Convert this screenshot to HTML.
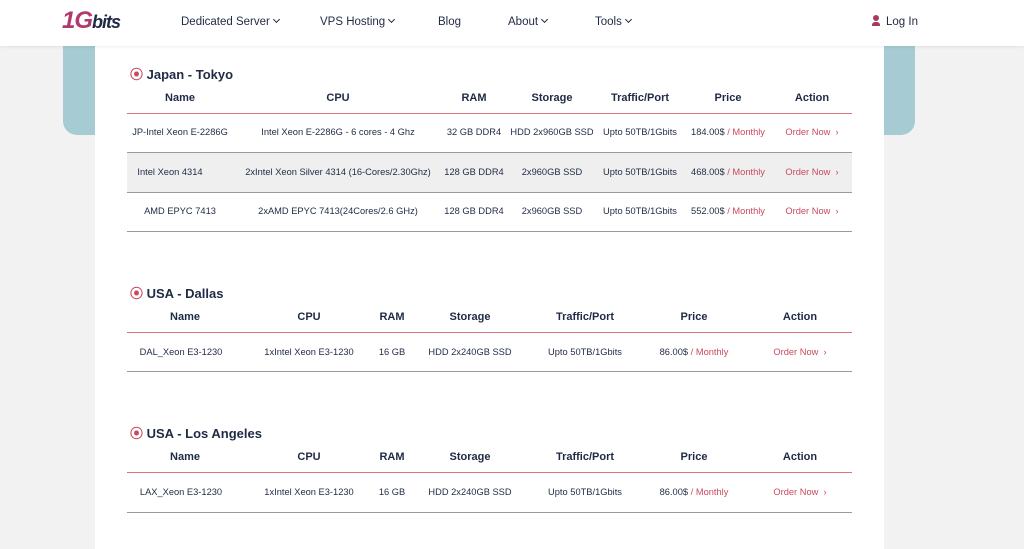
<!DOCTYPE html>
<html><head><style>
body{margin:0;width:1024px;height:549px;overflow:hidden;background:#f3f2f2;font-family:"Liberation Sans",sans-serif;position:relative;color:#1f2a44}
.a{position:absolute;white-space:nowrap}
.c{transform:translateX(-50%)}
.h{font-size:11px;font-weight:bold;color:#1f2a44}
.t{font-size:9.3px;color:#1f2a44}
.r{color:#c94a5e}
.ttl{font-size:13px;font-weight:bold;color:#1f2a44}
.nav{font-size:11.5px;color:#1f2a44;top:15px;line-height:14px}
.nav i{display:inline-block;width:4px;height:4px;border-right:1.2px solid #1f2a44;border-bottom:1.2px solid #1f2a44;transform:rotate(45deg);margin-left:4px;position:relative;top:-3px}
.line{position:absolute;height:1px}
</style></head><body>
<div class="a" style="left:0;top:0;width:1024px;height:46px;background:#fff;box-shadow:0 1px 3px rgba(0,0,0,.08);z-index:2"></div>
<div class="a" style="left:63px;top:46px;width:852px;height:89px;background:#a6cbd2;border-radius:0 0 14px 14px"></div>
<div class="a" style="left:95px;top:46px;width:789px;height:503px;background:#fff"></div>
<div style="position:absolute;z-index:3;left:0;top:0">
<div class="a" style="left:62px;top:7px;font-size:24px;font-weight:bold;font-style:italic;color:#b03a6e;letter-spacing:-1px">1G<span style="font-size:18px;color:#1f2a44">bits</span></div>
<div class="a nav" style="left:181px">Dedicated Server<i></i></div>
<div class="a nav" style="left:320px">VPS Hosting<i></i></div>
<div class="a nav" style="left:438px">Blog</div>
<div class="a nav" style="left:508px">About<i></i></div>
<div class="a nav" style="left:595px">Tools<i></i></div>
<div class="a" style="left:872px;top:15px;width:8px;height:11px;"><div style="width:6px;height:6px;border-radius:50%;background:#a83a62;margin-left:1px"></div><div style="width:8px;height:4px;background:#a83a62;border-radius:3px 3px 0 0;margin-top:1px"></div></div>
<div class="a nav" style="left:886px">Log In</div>
</div>

<!-- Japan -->
<div class="a ttl" style="left:130px;top:64px"><span class="r">⦿</span> Japan - Tokyo</div>
<div class="a" style="left:127px;top:153px;width:725px;height:39px;background:#efefef"></div>
<div class="line" style="left:127px;top:113px;width:725px;background:#d9737f"></div>
<div class="line" style="left:127px;top:152px;width:725px;background:#9a9a9a"></div>
<div class="line" style="left:127px;top:192px;width:725px;background:#9a9a9a"></div>
<div class="line" style="left:127px;top:231px;width:725px;background:#9a9a9a"></div>
<div class="a h c" style="left:180px;top:92px">Name</div>
<div class="a h c" style="left:338px;top:92px">CPU</div>
<div class="a h c" style="left:474px;top:92px">RAM</div>
<div class="a h c" style="left:552px;top:92px">Storage</div>
<div class="a h c" style="left:640px;top:92px">Traffic/Port</div>
<div class="a h c" style="left:728px;top:92px">Price</div>
<div class="a h c" style="left:812px;top:92px">Action</div>

<div class="a t c" style="left:180px;top:127px">JP-Intel Xeon E-2286G</div>
<div class="a t c" style="left:338px;top:127px">Intel Xeon E-2286G - 6 cores - 4 Ghz</div>
<div class="a t c" style="left:474px;top:127px">32 GB DDR4</div>
<div class="a t c" style="left:552px;top:127px">HDD 2x960GB SSD</div>
<div class="a t c" style="left:640px;top:127px">Upto 50TB/1Gbits</div>
<div class="a t c" style="left:728px;top:127px">184.00$ <span class="r">/ Monthly</span></div>
<div class="a t c r" style="left:812px;top:127px">Order Now &nbsp;›</div>

<div class="a t c" style="left:170px;top:167px">Intel Xeon 4314</div>
<div class="a t c" style="left:338px;top:167px">2xIntel Xeon Silver 4314 (16-Cores/2.30Ghz)</div>
<div class="a t c" style="left:474px;top:167px">128 GB DDR4</div>
<div class="a t c" style="left:552px;top:167px">2x960GB SSD</div>
<div class="a t c" style="left:640px;top:167px">Upto 50TB/1Gbits</div>
<div class="a t c" style="left:728px;top:167px">468.00$ <span class="r">/ Monthly</span></div>
<div class="a t c r" style="left:812px;top:167px">Order Now &nbsp;›</div>

<div class="a t c" style="left:180px;top:206px">AMD EPYC 7413</div>
<div class="a t c" style="left:338px;top:206px">2xAMD EPYC 7413(24Cores/2.6 GHz)</div>
<div class="a t c" style="left:474px;top:206px">128 GB DDR4</div>
<div class="a t c" style="left:552px;top:206px">2x960GB SSD</div>
<div class="a t c" style="left:640px;top:206px">Upto 50TB/1Gbits</div>
<div class="a t c" style="left:728px;top:206px">552.00$ <span class="r">/ Monthly</span></div>
<div class="a t c r" style="left:812px;top:206px">Order Now &nbsp;›</div>

<!-- Dallas -->
<div class="a ttl" style="left:130px;top:283px"><span class="r">⦿</span> USA - Dallas</div>
<div class="line" style="left:127px;top:332px;width:725px;background:#d9737f"></div>
<div class="line" style="left:127px;top:371px;width:725px;background:#9a9a9a"></div>
<div class="a h c" style="left:185px;top:311px">Name</div>
<div class="a h c" style="left:309px;top:311px">CPU</div>
<div class="a h c" style="left:392px;top:311px">RAM</div>
<div class="a h c" style="left:470px;top:311px">Storage</div>
<div class="a h c" style="left:585px;top:311px">Traffic/Port</div>
<div class="a h c" style="left:694px;top:311px">Price</div>
<div class="a h c" style="left:800px;top:311px">Action</div>
<div class="a t c" style="left:181px;top:347px">DAL_Xeon E3-1230</div>
<div class="a t c" style="left:309px;top:347px">1xIntel Xeon E3-1230</div>
<div class="a t c" style="left:392px;top:347px">16 GB</div>
<div class="a t c" style="left:470px;top:347px">HDD 2x240GB SSD</div>
<div class="a t c" style="left:585px;top:347px">Upto 50TB/1Gbits</div>
<div class="a t c" style="left:694px;top:347px">86.00$ <span class="r">/ Monthly</span></div>
<div class="a t c r" style="left:800px;top:347px">Order Now &nbsp;›</div>

<!-- LA -->
<div class="a ttl" style="left:130px;top:423px"><span class="r">⦿</span> USA - Los Angeles</div>
<div class="line" style="left:127px;top:472px;width:725px;background:#d9737f"></div>
<div class="line" style="left:127px;top:512px;width:725px;background:#9a9a9a"></div>
<div class="a h c" style="left:185px;top:451px">Name</div>
<div class="a h c" style="left:309px;top:451px">CPU</div>
<div class="a h c" style="left:392px;top:451px">RAM</div>
<div class="a h c" style="left:470px;top:451px">Storage</div>
<div class="a h c" style="left:585px;top:451px">Traffic/Port</div>
<div class="a h c" style="left:694px;top:451px">Price</div>
<div class="a h c" style="left:800px;top:451px">Action</div>
<div class="a t c" style="left:181px;top:487px">LAX_Xeon E3-1230</div>
<div class="a t c" style="left:309px;top:487px">1xIntel Xeon E3-1230</div>
<div class="a t c" style="left:392px;top:487px">16 GB</div>
<div class="a t c" style="left:470px;top:487px">HDD 2x240GB SSD</div>
<div class="a t c" style="left:585px;top:487px">Upto 50TB/1Gbits</div>
<div class="a t c" style="left:694px;top:487px">86.00$ <span class="r">/ Monthly</span></div>
<div class="a t c r" style="left:800px;top:487px">Order Now &nbsp;›</div>
</body></html>
